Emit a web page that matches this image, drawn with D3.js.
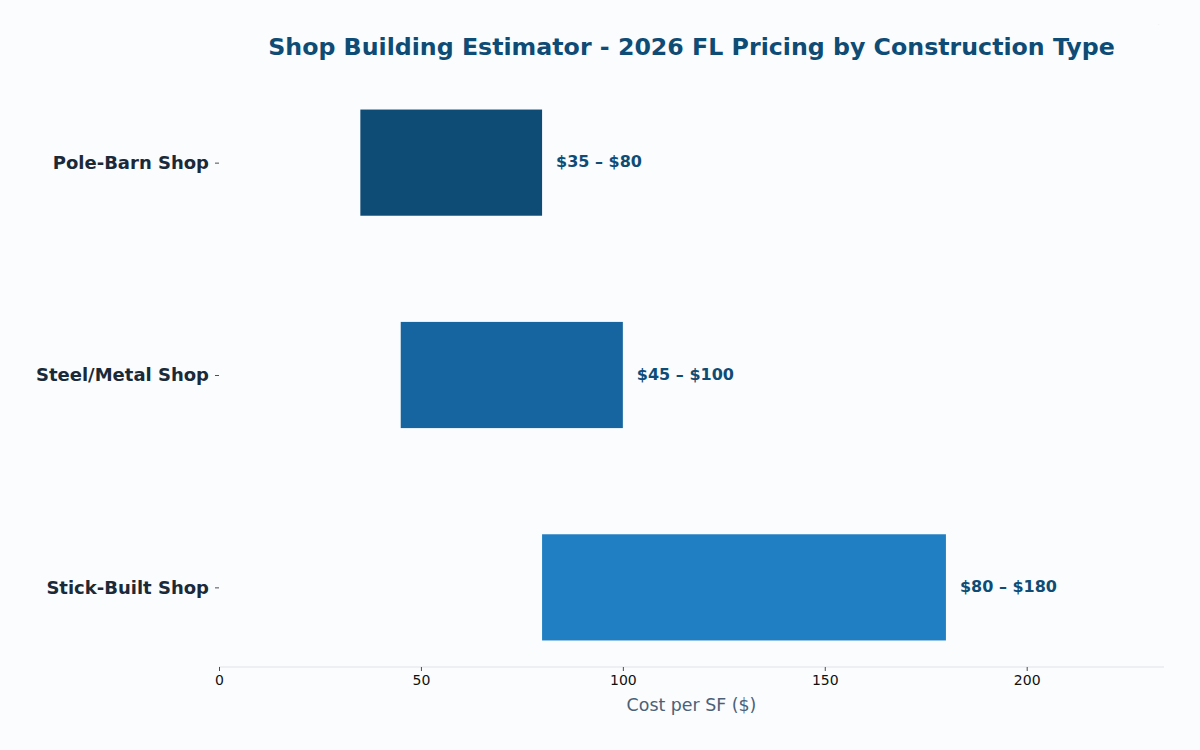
<!DOCTYPE html>
<html>
<head>
<meta charset="utf-8">
<script src="https://cdn.jsdelivr.net/npm/d3@7"></script>
<style>
  body { margin: 0; background: #fafcfe; }
  svg { font-family: "DejaVu Sans", sans-serif; }
</style>
</head>
<body>
<div id="chart"></div>
<script>
var categories = ["Pole-Barn Shop", "Steel/Metal Shop", "Stick-Built Shop"];
var lowCost = [35, 45, 80];
var highCost = [80, 100, 180];
var barColors = ["#0f4c75", "#1665a0", "#1f7fc2"];
var xTicks = [0, 50, 100, 150, 200];

var width = 1200, height = 750;
var margin = {top: 83, right: 36, bottom: 83, left: 219};
var w = width - margin.left - margin.right,
    h = height - margin.top - margin.bottom;

var svg = d3.select("#chart").append("svg")
    .attr("width", width)
    .attr("height", height);

svg.append("rect").attr("width", width).attr("height", height).attr("fill", "#fafcfe");

var g = svg.append("g")
    .attr("transform", "translate(" + margin.left + "," + margin.top + ")");

var x = d3.scaleLinear().domain([0, 234]).range([0, w]);
// matplotlib-like category axis: bars centred on integer positions, top category first
var y = d3.scaleLinear().domain([2.375, -0.375]).range([0, h]);
var barH = y(0) - y(0.5);

var data = categories.map(function (c, i) {
  return {name: c, lo: lowCost[i], hi: highCost[i], color: barColors[i], pos: categories.length - 1 - i};
});

g.selectAll(".bar").data(data).enter().append("rect")
    .attr("class", "bar")
    .attr("x", function (d) { return x(d.lo); })
    .attr("y", function (d) { return y(d.pos + 0.25); })
    .attr("width", function (d) { return x(d.hi) - x(d.lo); })
    .attr("height", barH)
    .attr("fill", function (d) { return d.color; });

g.selectAll(".val").data(data).enter().append("text")
    .attr("class", "val")
    .attr("x", function (d) { return x(d.hi) + 14; })
    .attr("y", function (d) { return y(d.pos); })
    .attr("dy", "0.3em")
    .attr("fill", "#0f4c75")
    .style("font-size", "16px")
    .style("font-weight", "bold")
    .text(function (d) { return "$" + d.lo + " \u2013 $" + d.hi; });

// x axis
var xaxis = g.append("g")
    .attr("transform", "translate(0," + h + ")")
    .call(d3.axisBottom(x).tickValues(xTicks).tickSize(4).tickPadding(4).tickFormat(d3.format("d")));
xaxis.select(".domain").attr("stroke", "#e0e3e7").attr("d", "M0,0H" + w);
xaxis.selectAll(".tick line").attr("stroke", "#222").attr("stroke-width", 0.8);
xaxis.selectAll(".tick text").attr("fill", "#111").style("font-size", "14px")
    .style("font-family", "DejaVu Sans, sans-serif");

// y axis
var yaxis = g.append("g")
    .call(d3.axisLeft(y).tickValues([0, 1, 2]).tickSize(4).tickPadding(6)
      .tickFormat(function (v) { return categories[categories.length - 1 - v]; }));
yaxis.select(".domain").remove();
yaxis.selectAll(".tick line").attr("stroke", "#222").attr("stroke-width", 0.8);
yaxis.selectAll(".tick text").attr("fill", "#1b2a38").style("font-size", "18px")
    .style("font-weight", "bold").style("font-family", "DejaVu Sans, sans-serif");

// axis label
g.append("text")
    .attr("x", w / 2)
    .attr("y", h + 44)
    .attr("text-anchor", "middle")
    .attr("fill", "#4a6178")
    .style("font-size", "17.4px")
    .text("Cost per SF ($)");

// title
svg.append("text")
    .attr("x", margin.left + w / 2)
    .attr("y", 55)
    .attr("text-anchor", "middle")
    .attr("fill", "#0f4c75")
    .style("font-size", "23.7px")
    .style("font-weight", "bold")
    .text("Shop Building Estimator - 2026 FL Pricing by Construction Type");

// faint mark top-right
svg.append("text")
    .attr("x", 1158)
    .attr("y", 25)
    .attr("fill", "#cfd6dd")
    .style("font-size", "4px")
    .text(".");
</script>
</body>
</html>
